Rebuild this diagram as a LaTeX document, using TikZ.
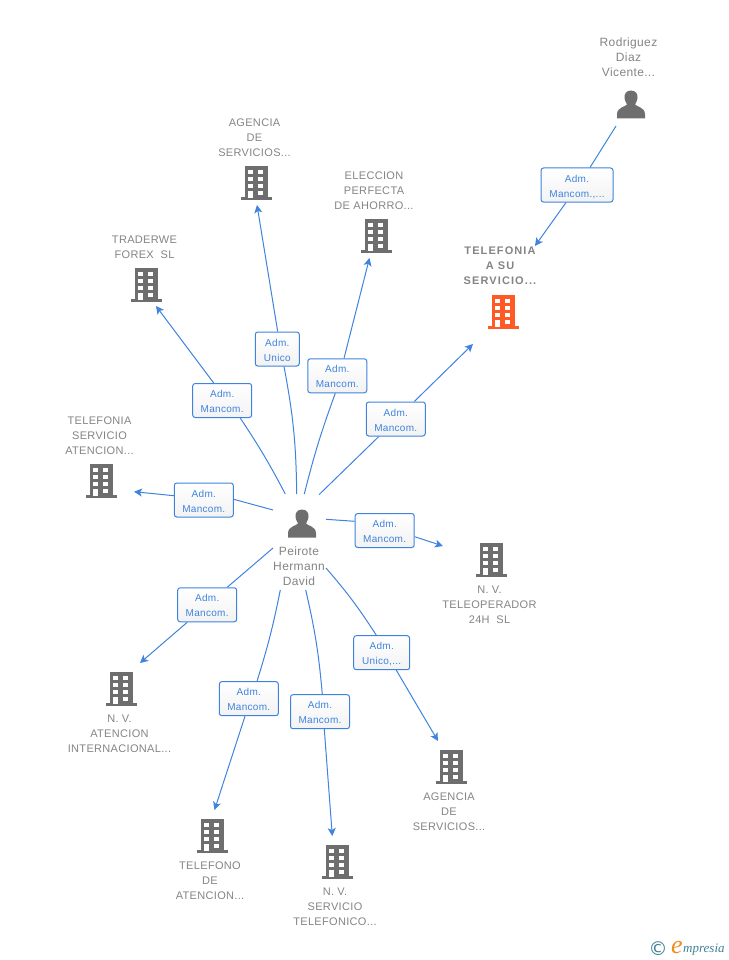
\documentclass[tikz,border=0pt]{standalone}
\usepackage{fontspec}
\setmainfont[LetterSpace=3,BoldFeatures={LetterSpace=10}]{Liberation Sans}
\newfontfamily\logofont{Liberation Serif}
\newfontfamily\symbfont{DejaVu Sans}
\usetikzlibrary{arrows.meta}
\definecolor{iconGray}{HTML}{6E6E6E}
\definecolor{iconRed}{HTML}{FF5A26}
\definecolor{textGray}{HTML}{848484}
\definecolor{linkBlue}{HTML}{3F83DE}
\definecolor{logoTeal}{HTML}{3F7F96}
\definecolor{logoOrange}{HTML}{F28A1E}

\begin{document}
\begin{tikzpicture}[x=1pt, y=-1pt, >={Stealth[length=8pt, width=8pt, inset=2pt]}]
    \tikzset{caption/.style={text=textGray, align=center, inner sep=0pt, font=\fontsize{11}{15}\selectfont}}
    \tikzset{boldcaption/.style={caption, font=\fontsize{11}{15}\selectfont\bfseries}}
    \tikzset{personcaption/.style={caption, font=\fontsize{12}{15}\selectfont}}
    \tikzset{role/.style={draw=linkBlue, line width=1pt, rounded corners=2.5pt, top color=white, bottom color=black!5,
        text=linkBlue, align=center, inner sep=0pt, minimum height=34pt, text height=24pt, text depth=0pt,
        font=\fontsize{10}{15}\selectfont}}
    \tikzset{link/.style={draw=linkBlue, line width=1pt}}

    % icons
    \tikzset{building/.pic={
        \fill[pic actions] (-11.5,-17) rectangle (11.5,15);
        \fill[pic actions] (-15.5,14) rectangle (15.5,16.5);
        \foreach \ypos in {-13,-6,1} {
            \fill[white] (-8,\ypos) rectangle (-3,\ypos+4);
            \fill[white] (2,\ypos) rectangle (7,\ypos+4);
        }
        \fill[white] (-8,7.5) rectangle (-3,15);
        \fill[white] (2,7.5) rectangle (7,11.5);
    }}
    \tikzset{person/.pic={
        \fill[pic actions] (0,-14.5) .. controls (-5,-14.5) and (-7,-10.5) .. (-6.5,-7)
            .. controls (-6,-3.5) and (-4.5,-2) .. (-4,-0.5)
            .. controls (-6,2) and (-13.5,2) .. (-14,9) -- (-14,13.5) -- (14,13.5) -- (14,9)
            .. controls (13.5,2) and (6,2) .. (4,-0.5)
            .. controls (4.5,-2) and (6,-3.5) .. (6.5,-7)
            .. controls (7,-10.5) and (5,-14.5) .. (0,-14.5) -- cycle;
    }}

    \useasboundingbox (0,0) rectangle (728,960);

    % people
    \pic[fill=iconGray] at (631,105) {person};
    \pic[fill=iconGray] at (302,524) {person};
    \node (rodriguez) [personcaption] at (628.5,57.5) {Rodriguez\\Diaz\\Vicente...};
    \node (peirote) [personcaption] at (299,566.5) {Peirote\\Hermann\\David};

    % companies
    \pic[fill=iconRed] at (503,312) {building};
    \pic[fill=iconGray] at (256,183) {building};
    \pic[fill=iconGray] at (376,236) {building};
    \pic[fill=iconGray] at (146,285) {building};
    \pic[fill=iconGray] at (101,481) {building};
    \pic[fill=iconGray] at (491,560) {building};
    \pic[fill=iconGray] at (121,689) {building};
    \pic[fill=iconGray] at (451,767) {building};
    \pic[fill=iconGray] at (212,836) {building};
    \pic[fill=iconGray] at (337,862) {building};

    \node (telefonia a) [boldcaption] at (500,266) {TELEFONIA\\A SU\\SERVICIO...};
    \node (agencia a) [caption] at (254.5,138) {AGENCIA\\DE\\SERVICIOS...};
    \node (eleccion) [caption] at (374,191) {ELECCION\\PERFECTA\\DE AHORRO...};
    \node (traderwe) [caption] at (144.5,247.5) {TRADERWE\\FOREX\ \ SL};
    \node (telefonia b) [caption] at (99.5,436) {TELEFONIA\\SERVICIO\\ATENCION...};
    \node (teleoperador) [caption] at (489.5,605) {N. V.\\TELEOPERADOR\\24H\ \ SL};
    \node (internacional) [caption] at (119.5,734) {N. V.\\ATENCION\\INTERNACIONAL...};
    \node (agencia b) [caption] at (449,812) {AGENCIA\\DE\\SERVICIOS...};
    \node (telefono) [caption] at (210,881) {TELEFONO\\DE\\ATENCION...};
    \node (servicio) [caption] at (335,907) {N. V.\\SERVICIO\\TELEFONICO...};

    % link ends
    \coordinate (from rodriguez) at (616,126);
    \coordinate (to telefonia a) at (535,246);
    \coordinate (from1) at (319,494.7);
    \coordinate (to1) at (473,344);
    \coordinate (from2) at (304.3,494);
    \coordinate (to2) at (369.5,258);
    \coordinate (from3) at (296.7,494);
    \coordinate (to3) at (257,205);
    \coordinate (from4) at (285.3,494);
    \coordinate (to4) at (156,306);
    \coordinate (from5) at (273,510);
    \coordinate (to5) at (134,491.7);
    \coordinate (from6) at (326,519.3);
    \coordinate (to6) at (443,546);
    \coordinate (from7) at (273,548);
    \coordinate (to7) at (140,663);
    \coordinate (from8) at (280.3,590);
    \coordinate (to8) at (214.5,810);
    \coordinate (from9) at (305.7,590);
    \coordinate (to9) at (332.3,836);
    \coordinate (from10) at (326,568);
    \coordinate (to10) at (438,741);

    % role boxes
    \node (role rodriguez) [role, minimum width=72pt] at (577,185) {Adm.\\Mancom.,...};
    \node (role1) [role, minimum width=59pt] at (395.8,419) {Adm.\\Mancom.};
    \node (role2) [role, minimum width=59pt] at (337.3,375.8) {Adm.\\Mancom.};
    \node (role3) [role, minimum width=44pt] at (277.3,349) {Adm.\\Unico};
    \node (role4) [role, minimum width=59pt] at (222.2,400.5) {Adm.\\Mancom.};
    \node (role5) [role, minimum width=59pt] at (203.8,500) {Adm.\\Mancom.};
    \node (role6) [role, minimum width=59pt] at (384.7,530.5) {Adm.\\Mancom.};
    \node (role7) [role, minimum width=59pt] at (207.2,604.8) {Adm.\\Mancom.};
    \node (role8) [role, minimum width=59pt] at (248.8,698.7) {Adm.\\Mancom.};
    \node (role9) [role, minimum width=59pt] at (320,711.7) {Adm.\\Mancom.};
    \node (role10) [role, minimum width=56pt] at (381.7,652.7) {Adm.\\Unico,...};

    % links
    \draw[link] (from rodriguez) -- ([xshift=13pt]role rodriguez.north);
    \draw[link, ->] ([xshift=-11pt]role rodriguez.south) -- (to telefonia a);
    \draw[link] (from1) -- ([xshift=-17pt]role1.south);
    \draw[link, ->] ([xshift=18.5pt]role1.north) -- (to1);
    \draw[link] (from2) to[bend left=3] ([xshift=-2pt]role2.south);
    \draw[link, ->] ([xshift=6.7pt]role2.north) -- (to2);
    \draw[link] (from3) to[bend right=5] ([xshift=6.7pt]role3.south);
    \draw[link, ->] ([xshift=0.4pt]role3.north) -- (to3);
    \draw[link] (from4) to[bend right=3] ([xshift=18pt]role4.south);
    \draw[link, ->] ([xshift=-8.5pt]role4.north) -- (to4);
    \draw[link] (from5) -- ([yshift=0.7pt]role5.east);
    \draw[link, ->] ([yshift=4.3pt]role5.west) -- (to5);
    \draw[link] (from6) -- ([yshift=9.2pt]role6.west);
    \draw[link, ->] ([yshift=-6.2pt]role6.east) -- (to6);
    \draw[link] (from7) -- ([xshift=20pt]role7.north);
    \draw[link, ->] ([xshift=-20pt]role7.south) -- (to7);
    \draw[link] (from8) to[bend left=3] ([xshift=8.2pt]role8.north);
    \draw[link, ->] ([xshift=-3.8pt]role8.south) -- (to8);
    \draw[link] (from9) to[bend left=4] ([xshift=2.3pt]role9.north);
    \draw[link, ->] ([xshift=4.3pt]role9.south) -- (to9);
    \draw[link] (from10) to[bend left=4] ([xshift=-5.4pt]role10.north);
    \draw[link, ->] ([xshift=14.6pt]role10.south) -- (to10);

    % logo
    \node (copyright) [text=logoTeal, inner sep=0pt, font=\symbfont\fontsize{19}{19}\selectfont] at (658,949) {©};
    \node (logo e) [text=logoOrange, inner sep=0pt, font=\logofont\itshape\fontsize{26}{26}\selectfont] at (677,947) {e};
    \node (logo text) [text=logoTeal, inner sep=0pt, anchor=west, font=\logofont\itshape\fontsize{13}{13}\selectfont] at (683,950) {mpresia};
\end{tikzpicture}
\end{document}
